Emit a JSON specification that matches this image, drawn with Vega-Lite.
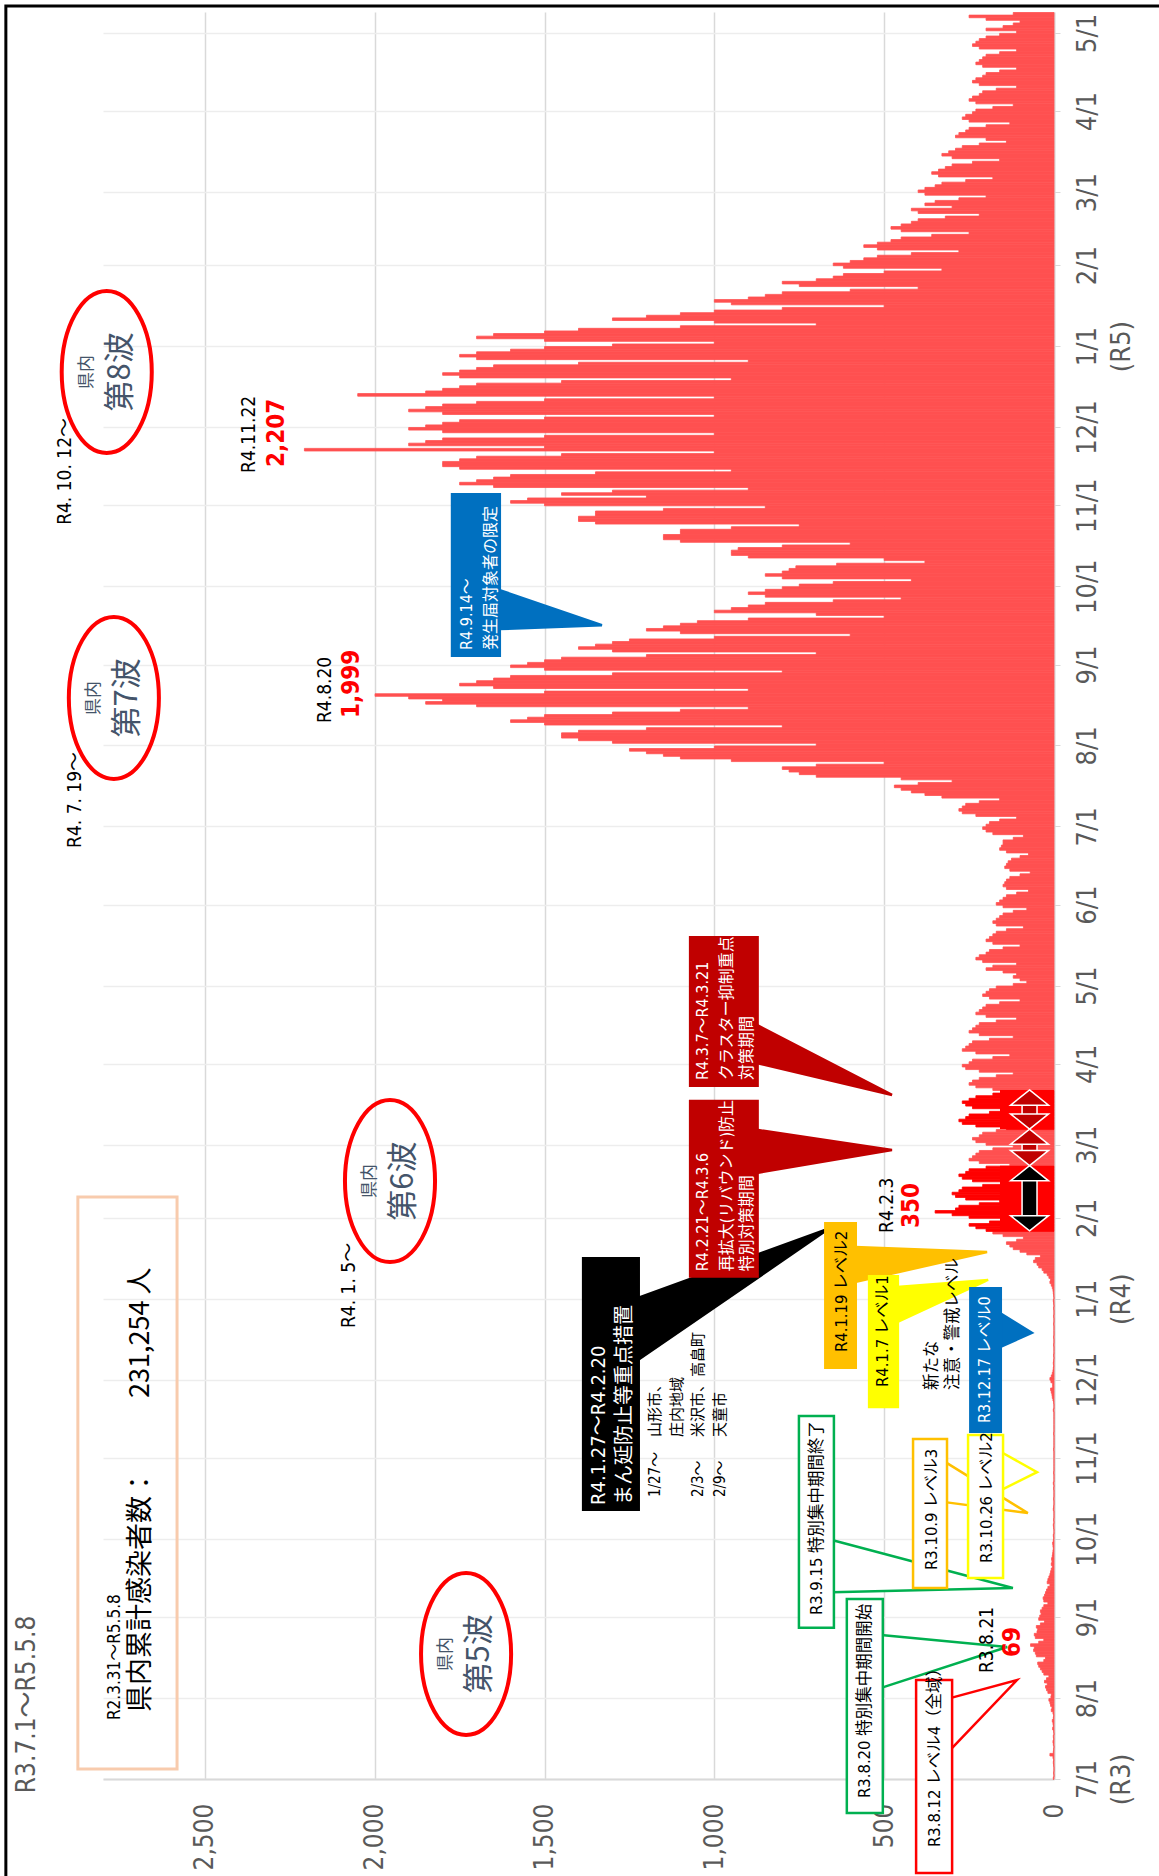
{
"$schema":"https://vega.github.io/schema/vega-lite/v6.json",
"width":951,"height":1767,
"autosize":{"type":"none"},
"padding":{"left":103,"top":12,"right":105,"bottom":97},
"background":"white",
"config":{"view":{"stroke":null}},
"resolve":{"scale":{"fill":"independent","stroke":"independent","shape":"independent"}},
"layer":[
{"data":{"values":[
{"d":"2021/7/1","v":2},{"d":"2021/7/2","v":0},{"d":"2021/7/3","v":1},{"d":"2021/7/4","v":0},{"d":"2021/7/5","v":0},{"d":"2021/7/6","v":1},{"d":"2021/7/7","v":2},{"d":"2021/7/8","v":1},{"d":"2021/7/9","v":3},{"d":"2021/7/10","v":12},{"d":"2021/7/11","v":2},{"d":"2021/7/12","v":1},{"d":"2021/7/13","v":0},{"d":"2021/7/14","v":2},{"d":"2021/7/15","v":3},{"d":"2021/7/16","v":1},{"d":"2021/7/17","v":2},{"d":"2021/7/18","v":0},{"d":"2021/7/19","v":1},{"d":"2021/7/20","v":4},{"d":"2021/7/21","v":2},{"d":"2021/7/22","v":3},{"d":"2021/7/23","v":5},{"d":"2021/7/24","v":2},{"d":"2021/7/25","v":1},{"d":"2021/7/26","v":3},{"d":"2021/7/27","v":8},{"d":"2021/7/28","v":6},{"d":"2021/7/29","v":10},{"d":"2021/7/30","v":12},{"d":"2021/7/31","v":15},
{"d":"2021/8/1","v":9},{"d":"2021/8/2","v":8},{"d":"2021/8/3","v":18},{"d":"2021/8/4","v":22},{"d":"2021/8/5","v":25},{"d":"2021/8/6","v":20},{"d":"2021/8/7","v":28},{"d":"2021/8/8","v":22},{"d":"2021/8/9","v":15},{"d":"2021/8/10","v":30},{"d":"2021/8/11","v":35},{"d":"2021/8/12","v":40},{"d":"2021/8/13","v":45},{"d":"2021/8/14","v":48},{"d":"2021/8/15","v":30},{"d":"2021/8/16","v":25},{"d":"2021/8/17","v":52},{"d":"2021/8/18","v":55},{"d":"2021/8/19","v":60},{"d":"2021/8/20","v":58},{"d":"2021/8/21","v":69},{"d":"2021/8/22","v":45},{"d":"2021/8/23","v":30},{"d":"2021/8/24","v":55},{"d":"2021/8/25","v":58},{"d":"2021/8/26","v":50},{"d":"2021/8/27","v":48},{"d":"2021/8/28","v":52},{"d":"2021/8/29","v":40},{"d":"2021/8/30","v":28},{"d":"2021/8/31","v":45},
{"d":"2021/9/1","v":42},{"d":"2021/9/2","v":38},{"d":"2021/9/3","v":40},{"d":"2021/9/4","v":35},{"d":"2021/9/5","v":30},{"d":"2021/9/6","v":18},{"d":"2021/9/7","v":30},{"d":"2021/9/8","v":32},{"d":"2021/9/9","v":28},{"d":"2021/9/10","v":25},{"d":"2021/9/11","v":22},{"d":"2021/9/12","v":18},{"d":"2021/9/13","v":12},{"d":"2021/9/14","v":20},{"d":"2021/9/15","v":18},{"d":"2021/9/16","v":15},{"d":"2021/9/17","v":12},{"d":"2021/9/18","v":10},{"d":"2021/9/19","v":8},{"d":"2021/9/20","v":5},{"d":"2021/9/21","v":8},{"d":"2021/9/22","v":6},{"d":"2021/9/23","v":7},{"d":"2021/9/24","v":5},{"d":"2021/9/25","v":4},{"d":"2021/9/26","v":3},{"d":"2021/9/27","v":2},{"d":"2021/9/28","v":3},{"d":"2021/9/29","v":4},{"d":"2021/9/30","v":2},
{"d":"2021/10/1","v":1},{"d":"2021/10/2","v":2},{"d":"2021/10/3","v":0},{"d":"2021/10/4","v":0},{"d":"2021/10/5","v":1},{"d":"2021/10/6","v":2},{"d":"2021/10/7","v":0},{"d":"2021/10/8","v":1},{"d":"2021/10/9","v":0},{"d":"2021/10/10","v":0},{"d":"2021/10/11","v":0},{"d":"2021/10/12","v":2},{"d":"2021/10/13","v":1},{"d":"2021/10/14","v":0},{"d":"2021/10/15","v":0},{"d":"2021/10/16","v":1},{"d":"2021/10/17","v":0},{"d":"2021/10/18","v":0},{"d":"2021/10/19","v":0},{"d":"2021/10/20","v":1},{"d":"2021/10/21","v":0},{"d":"2021/10/22","v":2},{"d":"2021/10/23","v":0},{"d":"2021/10/24","v":0},{"d":"2021/10/25","v":0},{"d":"2021/10/26","v":1},{"d":"2021/10/27","v":0},{"d":"2021/10/28","v":0},{"d":"2021/10/29","v":0},{"d":"2021/10/30","v":0},{"d":"2021/10/31","v":0},
{"d":"2021/11/1","v":0},{"d":"2021/11/2","v":0},{"d":"2021/11/3","v":0},{"d":"2021/11/4","v":1},{"d":"2021/11/5","v":0},{"d":"2021/11/6","v":0},{"d":"2021/11/7","v":0},{"d":"2021/11/8","v":0},{"d":"2021/11/9","v":0},{"d":"2021/11/10","v":1},{"d":"2021/11/11","v":0},{"d":"2021/11/12","v":0},{"d":"2021/11/13","v":0},{"d":"2021/11/14","v":0},{"d":"2021/11/15","v":0},{"d":"2021/11/16","v":0},{"d":"2021/11/17","v":0},{"d":"2021/11/18","v":0},{"d":"2021/11/19","v":2},{"d":"2021/11/20","v":0},{"d":"2021/11/21","v":0},{"d":"2021/11/22","v":1},{"d":"2021/11/23","v":3},{"d":"2021/11/24","v":5},{"d":"2021/11/25","v":6},{"d":"2021/11/26","v":8},{"d":"2021/11/27","v":10},{"d":"2021/11/28","v":4},{"d":"2021/11/29","v":4},{"d":"2021/11/30","v":9},
{"d":"2021/12/1","v":12},{"d":"2021/12/2","v":8},{"d":"2021/12/3","v":5},{"d":"2021/12/4","v":3},{"d":"2021/12/5","v":2},{"d":"2021/12/6","v":1},{"d":"2021/12/7","v":2},{"d":"2021/12/8","v":1},{"d":"2021/12/9","v":0},{"d":"2021/12/10","v":1},{"d":"2021/12/11","v":0},{"d":"2021/12/12","v":0},{"d":"2021/12/13","v":0},{"d":"2021/12/14","v":1},{"d":"2021/12/15","v":0},{"d":"2021/12/16","v":0},{"d":"2021/12/17","v":1},{"d":"2021/12/18","v":0},{"d":"2021/12/19","v":0},{"d":"2021/12/20","v":0},{"d":"2021/12/21","v":0},{"d":"2021/12/22","v":1},{"d":"2021/12/23","v":0},{"d":"2021/12/24","v":0},{"d":"2021/12/25","v":1},{"d":"2021/12/26","v":0},{"d":"2021/12/27","v":0},{"d":"2021/12/28","v":1},{"d":"2021/12/29","v":0},{"d":"2021/12/30","v":1},{"d":"2021/12/31","v":2},
{"d":"2022/1/1","v":0},{"d":"2022/1/2","v":1},{"d":"2022/1/3","v":2},{"d":"2022/1/4","v":3},{"d":"2022/1/5","v":5},{"d":"2022/1/6","v":8},{"d":"2022/1/7","v":12},{"d":"2022/1/8","v":10},{"d":"2022/1/9","v":15},{"d":"2022/1/10","v":20},{"d":"2022/1/11","v":30},{"d":"2022/1/12","v":35},{"d":"2022/1/13","v":45},{"d":"2022/1/14","v":50},{"d":"2022/1/15","v":60},{"d":"2022/1/16","v":55},{"d":"2022/1/17","v":40},{"d":"2022/1/18","v":80},{"d":"2022/1/19","v":100},{"d":"2022/1/20","v":120},{"d":"2022/1/21","v":130},{"d":"2022/1/22","v":140},{"d":"2022/1/23","v":110},{"d":"2022/1/24","v":90},{"d":"2022/1/25","v":150},{"d":"2022/1/26","v":180},{"d":"2022/1/27","v":200},{"d":"2022/1/28","v":230},{"d":"2022/1/29","v":250},{"d":"2022/1/30","v":190},{"d":"2022/1/31","v":150},
{"d":"2022/2/1","v":250},{"d":"2022/2/2","v":300},{"d":"2022/2/3","v":350},{"d":"2022/2/4","v":290},{"d":"2022/2/5","v":280},{"d":"2022/2/6","v":220},{"d":"2022/2/7","v":160},{"d":"2022/2/8","v":260},{"d":"2022/2/9","v":290},{"d":"2022/2/10","v":300},{"d":"2022/2/11","v":280},{"d":"2022/2/12","v":270},{"d":"2022/2/13","v":210},{"d":"2022/2/14","v":150},{"d":"2022/2/15","v":240},{"d":"2022/2/16","v":270},{"d":"2022/2/17","v":280},{"d":"2022/2/18","v":260},{"d":"2022/2/19","v":250},{"d":"2022/2/20","v":200},{"d":"2022/2/21","v":130},{"d":"2022/2/22","v":220},{"d":"2022/2/23","v":250},{"d":"2022/2/24","v":240},{"d":"2022/2/25","v":230},{"d":"2022/2/26","v":220},{"d":"2022/2/27","v":180},{"d":"2022/2/28","v":120},
{"d":"2022/3/1","v":200},{"d":"2022/3/2","v":230},{"d":"2022/3/3","v":240},{"d":"2022/3/4","v":220},{"d":"2022/3/5","v":210},{"d":"2022/3/6","v":170},{"d":"2022/3/7","v":140},{"d":"2022/3/8","v":230},{"d":"2022/3/9","v":270},{"d":"2022/3/10","v":280},{"d":"2022/3/11","v":260},{"d":"2022/3/12","v":250},{"d":"2022/3/13","v":190},{"d":"2022/3/14","v":130},{"d":"2022/3/15","v":240},{"d":"2022/3/16","v":260},{"d":"2022/3/17","v":270},{"d":"2022/3/18","v":250},{"d":"2022/3/19","v":230},{"d":"2022/3/20","v":180},{"d":"2022/3/21","v":110},{"d":"2022/3/22","v":180},{"d":"2022/3/23","v":230},{"d":"2022/3/24","v":250},{"d":"2022/3/25","v":240},{"d":"2022/3/26","v":220},{"d":"2022/3/27","v":170},{"d":"2022/3/28","v":120},{"d":"2022/3/29","v":220},{"d":"2022/3/30","v":260},{"d":"2022/3/31","v":270},
{"d":"2022/4/1","v":250},{"d":"2022/4/2","v":240},{"d":"2022/4/3","v":180},{"d":"2022/4/4","v":130},{"d":"2022/4/5","v":230},{"d":"2022/4/6","v":270},{"d":"2022/4/7","v":260},{"d":"2022/4/8","v":250},{"d":"2022/4/9","v":240},{"d":"2022/4/10","v":190},{"d":"2022/4/11","v":120},{"d":"2022/4/12","v":220},{"d":"2022/4/13","v":250},{"d":"2022/4/14","v":240},{"d":"2022/4/15","v":230},{"d":"2022/4/16","v":220},{"d":"2022/4/17","v":170},{"d":"2022/4/18","v":110},{"d":"2022/4/19","v":200},{"d":"2022/4/20","v":230},{"d":"2022/4/21","v":220},{"d":"2022/4/22","v":210},{"d":"2022/4/23","v":200},{"d":"2022/4/24","v":160},{"d":"2022/4/25","v":100},{"d":"2022/4/26","v":190},{"d":"2022/4/27","v":210},{"d":"2022/4/28","v":200},{"d":"2022/4/29","v":190},{"d":"2022/4/30","v":170},
{"d":"2022/5/1","v":120},{"d":"2022/5/2","v":80},{"d":"2022/5/3","v":100},{"d":"2022/5/4","v":120},{"d":"2022/5/5","v":110},{"d":"2022/5/6","v":150},{"d":"2022/5/7","v":200},{"d":"2022/5/8","v":180},{"d":"2022/5/9","v":110},{"d":"2022/5/10","v":210},{"d":"2022/5/11","v":230},{"d":"2022/5/12","v":220},{"d":"2022/5/13","v":200},{"d":"2022/5/14","v":190},{"d":"2022/5/15","v":150},{"d":"2022/5/16","v":100},{"d":"2022/5/17","v":180},{"d":"2022/5/18","v":200},{"d":"2022/5/19","v":190},{"d":"2022/5/20","v":180},{"d":"2022/5/21","v":170},{"d":"2022/5/22","v":140},{"d":"2022/5/23","v":90},{"d":"2022/5/24","v":170},{"d":"2022/5/25","v":180},{"d":"2022/5/26","v":170},{"d":"2022/5/27","v":160},{"d":"2022/5/28","v":150},{"d":"2022/5/29","v":120},{"d":"2022/5/30","v":80},{"d":"2022/5/31","v":150},
{"d":"2022/6/1","v":170},{"d":"2022/6/2","v":160},{"d":"2022/6/3","v":150},{"d":"2022/6/4","v":140},{"d":"2022/6/5","v":110},{"d":"2022/6/6","v":75},{"d":"2022/6/7","v":140},{"d":"2022/6/8","v":150},{"d":"2022/6/9","v":145},{"d":"2022/6/10","v":140},{"d":"2022/6/11","v":130},{"d":"2022/6/12","v":100},{"d":"2022/6/13","v":70},{"d":"2022/6/14","v":130},{"d":"2022/6/15","v":145},{"d":"2022/6/16","v":140},{"d":"2022/6/17","v":135},{"d":"2022/6/18","v":125},{"d":"2022/6/19","v":100},{"d":"2022/6/20","v":75},{"d":"2022/6/21","v":140},{"d":"2022/6/22","v":160},{"d":"2022/6/23","v":155},{"d":"2022/6/24","v":150},{"d":"2022/6/25","v":150},{"d":"2022/6/26","v":120},{"d":"2022/6/27","v":90},{"d":"2022/6/28","v":180},{"d":"2022/6/29","v":200},{"d":"2022/6/30","v":210},
{"d":"2022/7/1","v":200},{"d":"2022/7/2","v":190},{"d":"2022/7/3","v":160},{"d":"2022/7/4","v":110},{"d":"2022/7/5","v":230},{"d":"2022/7/6","v":270},{"d":"2022/7/7","v":280},{"d":"2022/7/8","v":270},{"d":"2022/7/9","v":260},{"d":"2022/7/10","v":220},{"d":"2022/7/11","v":160},{"d":"2022/7/12","v":330},{"d":"2022/7/13","v":380},{"d":"2022/7/14","v":420},{"d":"2022/7/15","v":450},{"d":"2022/7/16","v":470},{"d":"2022/7/17","v":400},{"d":"2022/7/18","v":300},{"d":"2022/7/19","v":450},{"d":"2022/7/20","v":700},{"d":"2022/7/21","v":750},{"d":"2022/7/22","v":780},{"d":"2022/7/23","v":800},{"d":"2022/7/24","v":700},{"d":"2022/7/25","v":500},{"d":"2022/7/26","v":950},{"d":"2022/7/27","v":1100},{"d":"2022/7/28","v":1150},{"d":"2022/7/29","v":1200},{"d":"2022/7/30","v":1250},{"d":"2022/7/31","v":1000},
{"d":"2022/8/1","v":700},{"d":"2022/8/2","v":1300},{"d":"2022/8/3","v":1400},{"d":"2022/8/4","v":1450},{"d":"2022/8/5","v":1450},{"d":"2022/8/6","v":1400},{"d":"2022/8/7","v":1200},{"d":"2022/8/8","v":800},{"d":"2022/8/9","v":1500},{"d":"2022/8/10","v":1600},{"d":"2022/8/11","v":1550},{"d":"2022/8/12","v":1500},{"d":"2022/8/13","v":1300},{"d":"2022/8/14","v":1100},{"d":"2022/8/15","v":900},{"d":"2022/8/16","v":1700},{"d":"2022/8/17","v":1850},{"d":"2022/8/18","v":1800},{"d":"2022/8/19","v":1900},{"d":"2022/8/20","v":1999},{"d":"2022/8/21","v":1500},{"d":"2022/8/22","v":900},{"d":"2022/8/23","v":1650},{"d":"2022/8/24","v":1750},{"d":"2022/8/25","v":1700},{"d":"2022/8/26","v":1650},{"d":"2022/8/27","v":1600},{"d":"2022/8/28","v":1300},{"d":"2022/8/29","v":800},{"d":"2022/8/30","v":1500},{"d":"2022/8/31","v":1600},
{"d":"2022/9/1","v":1550},{"d":"2022/9/2","v":1500},{"d":"2022/9/3","v":1450},{"d":"2022/9/4","v":1200},{"d":"2022/9/5","v":700},{"d":"2022/9/6","v":1300},{"d":"2022/9/7","v":1400},{"d":"2022/9/8","v":1350},{"d":"2022/9/9","v":1300},{"d":"2022/9/10","v":1250},{"d":"2022/9/11","v":1000},{"d":"2022/9/12","v":600},{"d":"2022/9/13","v":1100},{"d":"2022/9/14","v":1200},{"d":"2022/9/15","v":1150},{"d":"2022/9/16","v":1100},{"d":"2022/9/17","v":1050},{"d":"2022/9/18","v":900},{"d":"2022/9/19","v":500},{"d":"2022/9/20","v":700},{"d":"2022/9/21","v":1000},{"d":"2022/9/22","v":950},{"d":"2022/9/23","v":900},{"d":"2022/9/24","v":850},{"d":"2022/9/25","v":650},{"d":"2022/9/26","v":450},{"d":"2022/9/27","v":850},{"d":"2022/9/28","v":900},{"d":"2022/9/29","v":850},{"d":"2022/9/30","v":800},
{"d":"2022/10/1","v":750},{"d":"2022/10/2","v":650},{"d":"2022/10/3","v":420},{"d":"2022/10/4","v":800},{"d":"2022/10/5","v":850},{"d":"2022/10/6","v":800},{"d":"2022/10/7","v":780},{"d":"2022/10/8","v":760},{"d":"2022/10/9","v":640},{"d":"2022/10/10","v":380},{"d":"2022/10/11","v":500},{"d":"2022/10/12","v":900},{"d":"2022/10/13","v":950},{"d":"2022/10/14","v":950},{"d":"2022/10/15","v":930},{"d":"2022/10/16","v":800},{"d":"2022/10/17","v":600},{"d":"2022/10/18","v":1100},{"d":"2022/10/19","v":1150},{"d":"2022/10/20","v":1150},{"d":"2022/10/21","v":1100},{"d":"2022/10/22","v":1100},{"d":"2022/10/23","v":950},{"d":"2022/10/24","v":750},{"d":"2022/10/25","v":1350},{"d":"2022/10/26","v":1400},{"d":"2022/10/27","v":1400},{"d":"2022/10/28","v":1350},{"d":"2022/10/29","v":1350},{"d":"2022/10/30","v":1150},{"d":"2022/10/31","v":850},
{"d":"2022/11/1","v":1500},{"d":"2022/11/2","v":1600},{"d":"2022/11/3","v":1550},{"d":"2022/11/4","v":1200},{"d":"2022/11/5","v":1450},{"d":"2022/11/6","v":1300},{"d":"2022/11/7","v":900},{"d":"2022/11/8","v":1650},{"d":"2022/11/9","v":1750},{"d":"2022/11/10","v":1700},{"d":"2022/11/11","v":1650},{"d":"2022/11/12","v":1600},{"d":"2022/11/13","v":1350},{"d":"2022/11/14","v":950},{"d":"2022/11/15","v":1750},{"d":"2022/11/16","v":1800},{"d":"2022/11/17","v":1800},{"d":"2022/11/18","v":1750},{"d":"2022/11/19","v":1700},{"d":"2022/11/20","v":1450},{"d":"2022/11/21","v":1000},{"d":"2022/11/22","v":2207},{"d":"2022/11/23","v":1500},{"d":"2022/11/24","v":1900},{"d":"2022/11/25","v":1850},{"d":"2022/11/26","v":1800},{"d":"2022/11/27","v":1500},{"d":"2022/11/28","v":1000},{"d":"2022/11/29","v":1800},{"d":"2022/11/30","v":1900},
{"d":"2022/12/1","v":1850},{"d":"2022/12/2","v":1800},{"d":"2022/12/3","v":1750},{"d":"2022/12/4","v":1500},{"d":"2022/12/5","v":1000},{"d":"2022/12/6","v":1800},{"d":"2022/12/7","v":1900},{"d":"2022/12/8","v":1850},{"d":"2022/12/9","v":1800},{"d":"2022/12/10","v":1700},{"d":"2022/12/11","v":1500},{"d":"2022/12/12","v":1000},{"d":"2022/12/13","v":2050},{"d":"2022/12/14","v":1850},{"d":"2022/12/15","v":1800},{"d":"2022/12/16","v":1750},{"d":"2022/12/17","v":1700},{"d":"2022/12/18","v":1450},{"d":"2022/12/19","v":950},{"d":"2022/12/20","v":1750},{"d":"2022/12/21","v":1800},{"d":"2022/12/22","v":1750},{"d":"2022/12/23","v":1700},{"d":"2022/12/24","v":1650},{"d":"2022/12/25","v":1400},{"d":"2022/12/26","v":900},{"d":"2022/12/27","v":1700},{"d":"2022/12/28","v":1750},{"d":"2022/12/29","v":1700},{"d":"2022/12/30","v":1600},{"d":"2022/12/31","v":1500},
{"d":"2023/1/1","v":1300},{"d":"2023/1/2","v":1000},{"d":"2023/1/3","v":1500},{"d":"2023/1/4","v":1700},{"d":"2023/1/5","v":1650},{"d":"2023/1/6","v":1500},{"d":"2023/1/7","v":1400},{"d":"2023/1/8","v":1100},{"d":"2023/1/9","v":700},{"d":"2023/1/10","v":1000},{"d":"2023/1/11","v":1300},{"d":"2023/1/12","v":1200},{"d":"2023/1/13","v":1100},{"d":"2023/1/14","v":1000},{"d":"2023/1/15","v":800},{"d":"2023/1/16","v":500},{"d":"2023/1/17","v":950},{"d":"2023/1/18","v":1000},{"d":"2023/1/19","v":900},{"d":"2023/1/20","v":850},{"d":"2023/1/21","v":800},{"d":"2023/1/22","v":600},{"d":"2023/1/23","v":400},{"d":"2023/1/24","v":750},{"d":"2023/1/25","v":800},{"d":"2023/1/26","v":700},{"d":"2023/1/27","v":650},{"d":"2023/1/28","v":620},{"d":"2023/1/29","v":500},{"d":"2023/1/30","v":330},{"d":"2023/1/31","v":620},
{"d":"2023/2/1","v":650},{"d":"2023/2/2","v":600},{"d":"2023/2/3","v":560},{"d":"2023/2/4","v":520},{"d":"2023/2/5","v":420},{"d":"2023/2/6","v":280},{"d":"2023/2/7","v":520},{"d":"2023/2/8","v":560},{"d":"2023/2/9","v":520},{"d":"2023/2/10","v":480},{"d":"2023/2/11","v":450},{"d":"2023/2/12","v":360},{"d":"2023/2/13","v":250},{"d":"2023/2/14","v":450},{"d":"2023/2/15","v":480},{"d":"2023/2/16","v":450},{"d":"2023/2/17","v":420},{"d":"2023/2/18","v":400},{"d":"2023/2/19","v":320},{"d":"2023/2/20","v":220},{"d":"2023/2/21","v":400},{"d":"2023/2/22","v":420},{"d":"2023/2/23","v":300},{"d":"2023/2/24","v":380},{"d":"2023/2/25","v":350},{"d":"2023/2/26","v":280},{"d":"2023/2/27","v":200},{"d":"2023/2/28","v":380},
{"d":"2023/3/1","v":400},{"d":"2023/3/2","v":380},{"d":"2023/3/3","v":350},{"d":"2023/3/4","v":330},{"d":"2023/3/5","v":260},{"d":"2023/3/6","v":180},{"d":"2023/3/7","v":340},{"d":"2023/3/8","v":360},{"d":"2023/3/9","v":340},{"d":"2023/3/10","v":320},{"d":"2023/3/11","v":300},{"d":"2023/3/12","v":240},{"d":"2023/3/13","v":160},{"d":"2023/3/14","v":300},{"d":"2023/3/15","v":330},{"d":"2023/3/16","v":310},{"d":"2023/3/17","v":290},{"d":"2023/3/18","v":270},{"d":"2023/3/19","v":220},{"d":"2023/3/20","v":140},{"d":"2023/3/21","v":200},{"d":"2023/3/22","v":290},{"d":"2023/3/23","v":280},{"d":"2023/3/24","v":260},{"d":"2023/3/25","v":250},{"d":"2023/3/26","v":200},{"d":"2023/3/27","v":130},{"d":"2023/3/28","v":250},{"d":"2023/3/29","v":270},{"d":"2023/3/30","v":260},{"d":"2023/3/31","v":240},
{"d":"2023/4/1","v":230},{"d":"2023/4/2","v":180},{"d":"2023/4/3","v":120},{"d":"2023/4/4","v":230},{"d":"2023/4/5","v":250},{"d":"2023/4/6","v":240},{"d":"2023/4/7","v":220},{"d":"2023/4/8","v":210},{"d":"2023/4/9","v":170},{"d":"2023/4/10","v":110},{"d":"2023/4/11","v":220},{"d":"2023/4/12","v":240},{"d":"2023/4/13","v":230},{"d":"2023/4/14","v":210},{"d":"2023/4/15","v":200},{"d":"2023/4/16","v":160},{"d":"2023/4/17","v":110},{"d":"2023/4/18","v":210},{"d":"2023/4/19","v":230},{"d":"2023/4/20","v":220},{"d":"2023/4/21","v":210},{"d":"2023/4/22","v":200},{"d":"2023/4/23","v":160},{"d":"2023/4/24","v":110},{"d":"2023/4/25","v":220},{"d":"2023/4/26","v":240},{"d":"2023/4/27","v":230},{"d":"2023/4/28","v":220},{"d":"2023/4/29","v":200},{"d":"2023/4/30","v":160},
{"d":"2023/5/1","v":110},{"d":"2023/5/2","v":200},{"d":"2023/5/3","v":150},{"d":"2023/5/4","v":120},{"d":"2023/5/5","v":100},{"d":"2023/5/6","v":200},{"d":"2023/5/7","v":250},{"d":"2023/5/8","v":120}
]},
 "mark":{"type":"bar","binSpacing":0,"strokeWidth":0.8},
 "encoding":{
  "y":{"field":"d","type":"temporal","timeUnit":"yearmonthdate",
   "scale":{"domain":[{"year":2021,"month":7,"date":1},{"year":2023,"month":5,"date":9}],"nice":false},
   "axis":{"orient":"right","title":null,
    "values":[{"year":2021,"month":7,"date":1},{"year":2021,"month":8,"date":1},{"year":2021,"month":9,"date":1},{"year":2021,"month":10,"date":1},{"year":2021,"month":11,"date":1},{"year":2021,"month":12,"date":1},{"year":2022,"month":1,"date":1},{"year":2022,"month":2,"date":1},{"year":2022,"month":3,"date":1},{"year":2022,"month":4,"date":1},{"year":2022,"month":5,"date":1},{"year":2022,"month":6,"date":1},{"year":2022,"month":7,"date":1},{"year":2022,"month":8,"date":1},{"year":2022,"month":9,"date":1},{"year":2022,"month":10,"date":1},{"year":2022,"month":11,"date":1},{"year":2022,"month":12,"date":1},{"year":2023,"month":1,"date":1},{"year":2023,"month":2,"date":1},{"year":2023,"month":3,"date":1},{"year":2023,"month":4,"date":1},{"year":2023,"month":5,"date":1}],
    "labelExpr":"(month(datum.value)==0 || (year(datum.value)==2021 && month(datum.value)==6)) ? [timeFormat(datum.value,'%-m/%-d'), '(R' + (year(datum.value)-2018) + ')'] : timeFormat(datum.value,'%-m/%-d')",
    "labelAngle":270,"labelAlign":"center","labelBaseline":"top",
    "labelFont":"Liberation Sans Narrow, Arial Narrow, DejaVu Sans Condensed, sans-serif","labelFontSize":27,"labelColor":"#595959","labelLineHeight":34,
    "labelPadding":14,"tickSize":6,"tickColor":"#D9D9D9","domainColor":"#D9D9D9","domainWidth":2,
    "grid":true,"gridColor":"#EDEDED","gridWidth":1.5,"labelOverlap":false,"labelBound":false,"labelFlush":false}},
  "x":{"field":"v","type":"quantitative",
   "scale":{"domain":[0,2800],"reverse":true,"nice":false},
   "axis":{"orient":"bottom","title":null,"values":[0,500,1000,1500,2000,2500],
    "labelExpr":"format(datum.value, ',')",
    "labelAngle":270,"labelAlign":"right","labelBaseline":"middle",
    "labelFont":"Liberation Sans Narrow, Arial Narrow, DejaVu Sans Condensed, sans-serif","labelFontSize":26,"labelColor":"#595959",
    "labelPadding":24,"ticks":false,"domainColor":"#D9D9D9","domainWidth":2,
    "grid":true,"gridColor":"#D9D9D9","gridWidth":1.5,"labelOverlap":false,"labelBound":false,"labelFlush":false}},
  "color":{"condition":{"test":"(toDate(datum.d) >= datetime(2022,0,27) && toDate(datum.d) < datetime(2022,1,21)) || (toDate(datum.d) >= datetime(2022,2,7) && toDate(datum.d) < datetime(2022,2,22))","value":"#FF0000"},"value":"#FF5050"},
  "stroke":{"condition":{"test":"(toDate(datum.d) >= datetime(2022,0,27) && toDate(datum.d) < datetime(2022,1,21)) || (toDate(datum.d) >= datetime(2022,2,7) && toDate(datum.d) < datetime(2022,2,22))","value":"#FF0000"},"value":"#FF5050"}
 }},
{"data":{"values":[{"d1":"2022/1/27","d2":"2022/2/21","v1":0,"v2":159},{"d1":"2022/3/7","d2":"2022/3/22","v1":0,"v2":159}]},
 "mark":{"type":"rect","color":"#FF0000"},
 "encoding":{"y":{"field":"d1","type":"temporal"},"y2":{"field":"d2"},"x":{"field":"v1","type":"quantitative"},"x2":{"field":"v2"}}},
{"data":{"values":[{"k":"まん延防止","d1":"2022/1/31","d2":"2022/2/17","v1":50,"v2":94},{"k":"特別対策","d1":"2022/2/25","d2":"2022/3/3","v1":50,"v2":94},{"k":"特別対策","d1":"2022/3/11","d2":"2022/3/18","v1":50,"v2":94}]},
 "mark":{"type":"rect","stroke":"white","strokeWidth":1.5},
 "encoding":{"y":{"field":"d1","type":"temporal"},"y2":{"field":"d2"},"x":{"field":"v1","type":"quantitative"},"x2":{"field":"v2"},
  "fill":{"field":"k","type":"nominal","scale":{"domain":["まん延防止","特別対策"],"range":["#000000","#C00000"]},"legend":null}}},
{"data":{"values":[{"k":"まん延防止","h":"下","d":"2022/1/27","v":72},{"k":"まん延防止","h":"上","d":"2022/2/21","v":72},{"k":"特別対策","h":"下","d":"2022/2/21","v":72},{"k":"特別対策","h":"上","d":"2022/3/7","v":72},{"k":"特別対策","h":"下","d":"2022/3/7","v":72},{"k":"特別対策","h":"上","d":"2022/3/22","v":72}]},
 "mark":{"type":"point","filled":true,"size":1444,"stroke":"white","strokeWidth":1.5,"opacity":1},
 "encoding":{"y":{"field":"d","type":"temporal"},"x":{"field":"v","type":"quantitative"},
  "fill":{"field":"k","type":"nominal","scale":{"domain":["まん延防止","特別対策"],"range":["#000000","#C00000"]},"legend":null},
  "shape":{"field":"h","type":"nominal","scale":{"domain":["上","下"],"range":["M0,0L1,0.8L-1,0.8Z","M0,0L1,-0.8L-1,-0.8Z"]},"legend":null}}},
{"data":{"values":[
 {"id":"A","o":1,"d":"2022/1/1 07:00","v":1225},{"id":"A","o":2,"d":"2022/1/28 02:00","v":660},{"id":"A","o":3,"d":"2021/12/8 12:00","v":1225},
 {"id":"B","o":1,"d":"2022/3/6 17:00","v":875},{"id":"B","o":2,"d":"2022/2/27","v":477},{"id":"B","o":3,"d":"2022/2/18 05:00","v":875},
 {"id":"C","o":1,"d":"2022/4/15 22:00","v":875},{"id":"C","o":2,"d":"2022/3/20 02:00","v":477},{"id":"C","o":3,"d":"2022/4/1 07:00","v":875},
 {"id":"D","o":1,"d":"2022/1/20 19:00","v":586},{"id":"D","o":2,"d":"2022/1/18 22:00","v":197},{"id":"D","o":3,"d":"2022/1/7 10:00","v":586},
 {"id":"E","o":1,"d":"2022/1/5 12:00","v":462},{"id":"E","o":2,"d":"2022/1/8 05:00","v":194},{"id":"E","o":3,"d":"2021/12/23 02:00","v":462},
 {"id":"F","o":1,"d":"2021/12/26 12:00","v":159},{"id":"F","o":2,"d":"2021/12/18 22:00","v":65},{"id":"F","o":3,"d":"2021/12/13 12:00","v":159},
 {"id":"G","o":1,"d":"2022/9/29 14:00","v":1634},{"id":"G","o":2,"d":"2022/9/16 02:00","v":1331},{"id":"G","o":3,"d":"2022/9/14 14:00","v":1634},
 {"id":"H","o":1,"d":"2021/9/30 14:00","v":654},{"id":"H","o":2,"d":"2021/9/12 05:00","v":121},{"id":"H","o":3,"d":"2021/9/10 14:00","v":654},
 {"id":"I","o":1,"d":"2021/10/30 12:00","v":321},{"id":"I","o":2,"d":"2021/10/10 22:00","v":77},{"id":"I","o":3,"d":"2021/10/15 02:00","v":321},
 {"id":"J","o":1,"d":"2021/11/3 07:00","v":156},{"id":"J","o":2,"d":"2021/10/26 14:00","v":50},{"id":"J","o":3,"d":"2021/10/19 17:00","v":156},
 {"id":"K","o":1,"d":"2021/8/25 05:00","v":509},{"id":"K","o":2,"d":"2021/8/20 14:00","v":138},{"id":"K","o":3,"d":"2021/8/4 22:00","v":509},
 {"id":"L","o":1,"d":"2021/8/1","v":306},{"id":"L","o":2,"d":"2021/8/7 22:00","v":109},{"id":"L","o":3,"d":"2021/7/12 02:00","v":306}
]},
 "mark":{"type":"line","strokeWidth":2.5,"strokeJoin":"miter"},
 "encoding":{"y":{"field":"d","type":"temporal"},"x":{"field":"v","type":"quantitative"},"order":{"field":"o"},
  "fill":{"field":"id","type":"nominal","scale":{"domain":["A","B","C","D","E","F","G","H","I","J","K","L"],"range":["#000000","#C00000","#C00000","#FFC000","#FFFF00","#0070C0","#0070C0","#FFFFFF","#FFFFFF","#FFFFFF","#FFFFFF","#FFFFFF"]},"legend":null},
  "stroke":{"field":"id","type":"nominal","scale":{"domain":["A","B","C","D","E","F","G","H","I","J","K","L"],"range":["#000000","#C00000","#C00000","#FFC000","#FFFF00","#0070C0","#0070C0","#00B050","#FFC000","#FFFF00","#00B050","#FF0000"]},"legend":null}}},
{"data":{"values":[
 {"k":"まん延","d1":"2021/10/11 17:00","d2":"2022/1/17","v1":1390,"v2":1219},
 {"k":"再拡大","d1":"2022/1/9","d2":"2022/3/18 05:00","v1":1075,"v2":869},
 {"k":"クラスター","d1":"2022/3/23 02:00","d2":"2022/5/20","v1":1075,"v2":869},
 {"k":"レベル2","d1":"2021/12/5 02:00","d2":"2022/1/30 10:00","v1":677,"v2":580},
 {"k":"レベル1","d1":"2021/11/20 02:00","d2":"2022/1/10 02:00","v1":548,"v2":456},
 {"k":"レベル0","d1":"2021/11/10 14:00","d2":"2022/1/5 12:00","v1":250,"v2":153},
 {"k":"発生届","d1":"2022/9/3 22:00","d2":"2022/11/5 17:00","v1":1776,"v2":1628}
]},
 "mark":{"type":"rect"},
 "encoding":{"y":{"field":"d1","type":"temporal"},"y2":{"field":"d2"},"x":{"field":"v1","type":"quantitative"},"x2":{"field":"v2"},
  "fill":{"field":"k","type":"nominal","scale":{"domain":["まん延","再拡大","クラスター","レベル2","レベル1","レベル0","発生届"],"range":["#000000","#C00000","#C00000","#FFC000","#FFFF00","#0070C0","#0070C0"]},"legend":null}}},
{"data":{"values":[
 {"k":"終了","d1":"2021/8/27 22:00","d2":"2021/11/17 02:00","v1":751,"v2":648},
 {"k":"レベル3","d1":"2021/9/12 05:00","d2":"2021/11/8 07:00","v1":415,"v2":315},
 {"k":"レベル2","d1":"2021/9/16","d2":"2021/11/9 19:00","v1":253,"v2":150},
 {"k":"開始","d1":"2021/6/18","d2":"2021/9/8","v1":610,"v2":504},
 {"k":"レベル4","d1":"2021/5/26","d2":"2021/8/7 22:00","v1":406,"v2":300}
]},
 "mark":{"type":"rect","fill":"white","strokeWidth":2.5},
 "encoding":{"y":{"field":"d1","type":"temporal"},"y2":{"field":"d2"},"x":{"field":"v1","type":"quantitative"},"x2":{"field":"v2"},
  "stroke":{"field":"k","type":"nominal","scale":{"domain":["終了","レベル3","レベル2","開始","レベル4"],"range":["#00B050","#FFC000","#FFFF00","#00B050","#FF0000"]},"legend":null}}},
{"data":{"values":[{"d1":"2021/7/4 19:00","d2":"2022/2/9","v1":2874,"v2":2582}]},
 "mark":{"type":"rect","filled":false,"color":"#F8CBAD","strokeWidth":3},
 "encoding":{"y":{"field":"d1","type":"temporal"},"y2":{"field":"d2"},"x":{"field":"v1","type":"quantitative"},"x2":{"field":"v2"}}},
{"data":{"values":[{"d1":"2021/5/23","d2":"2023/5/11 07:00","v1":3086,"v2":-320}]},
 "mark":{"type":"rect","filled":false,"color":"#000000","strokeWidth":3},
 "encoding":{"y":{"field":"d1","type":"temporal"},"y2":{"field":"d2"},"x":{"field":"v1","type":"quantitative"},"x2":{"field":"v2"}}},
{"data":{"values":[
 {"t":"R4. 10. 12～","d":"2022/10/24 12:00","v":2912},
 {"t":"R4. 7. 19～","d":"2022/6/22 17:00","v":2883},
 {"t":"R4.11.22","d":"2022/11/13 10:00","v":2370},
 {"t":"R4.8.20","d":"2022/8/9 14:00","v":2147},
 {"t":"R4. 1. 5～","d":"2021/12/20 19:00","v":2076},
 {"t":"R4.2.3","d":"2022/1/26 05:00","v":492},
 {"t":"R3.8.21","d":"2021/8/10 14:00","v":197}
]},
 "mark":{"type":"text","angle":270,"align":"left","baseline":"middle","font":"Liberation Sans Narrow, Arial Narrow, DejaVu Sans Condensed, Noto Sans CJK JP, sans-serif","fontSize":19,"color":"#000000"},
 "encoding":{"y":{"field":"d","type":"temporal"},"x":{"field":"v","type":"quantitative"},"text":{"field":"t"}}},
{"data":{"values":[
 {"t":"2,207","d":"2022/11/15 17:00","v":2288},
 {"t":"1,999","d":"2022/8/11 12:00","v":2067},
 {"t":"350","d":"2022/1/28 02:00","v":418},
 {"t":"69","d":"2021/8/16 17:00","v":121}
]},
 "mark":{"type":"text","angle":270,"align":"left","baseline":"middle","font":"Liberation Sans Narrow, Arial Narrow, DejaVu Sans Condensed, sans-serif","fontSize":24,"fontWeight":"bold","color":"#FF0000"},
 "encoding":{"y":{"field":"d","type":"temporal"},"x":{"field":"v","type":"quantitative"},"text":{"field":"t"}}},
{"data":{"values":[
 {"t":"R4.1.19 レベル2","d":"2021/12/11 14:00","v":624},
 {"t":"R4.1.7 レベル1","d":"2021/11/28 05:00","v":504},
 {"t":"新たな","d":"2021/11/27","v":359},
 {"t":"注意・警戒レベル","d":"2021/11/27","v":297},
 {"t":"R3.10.9 レベル3","d":"2021/9/19 02:00","v":359},
 {"t":"R3.10.26 レベル2","d":"2021/9/21 19:00","v":197},
 {"t":"R3.9.15 特別集中期間終了","d":"2021/9/1 19:00","v":698},
 {"t":"R3.8.20 特別集中期間開始","d":"2021/6/23 17:00","v":557},
 {"t":"R3.8.12 レベル4（全域）","d":"2021/6/4 22:00","v":350}
]},
 "mark":{"type":"text","angle":270,"align":"left","baseline":"middle","font":"Liberation Sans Narrow, Arial Narrow, DejaVu Sans Condensed, Noto Sans CJK JP, sans-serif","fontSize":16.5,"color":"#000000"},
 "encoding":{"y":{"field":"d","type":"temporal"},"x":{"field":"v","type":"quantitative"},"text":{"field":"t"}}},
{"data":{"values":[
 {"t":"1/27～","d":"2021/10/17","v":1175},
 {"t":"2/3～","d":"2021/10/17","v":1048},
 {"t":"2/9～","d":"2021/10/17","v":984},
 {"t":"山形市、","d":"2021/11/9","v":1175},
 {"t":"庄内地域","d":"2021/11/9","v":1110},
 {"t":"米沢市、高畠町","d":"2021/11/9","v":1048},
 {"t":"天童市","d":"2021/11/9","v":984}
]},
 "mark":{"type":"text","angle":270,"align":"left","baseline":"middle","font":"Liberation Sans Narrow, Arial Narrow, DejaVu Sans Condensed, Noto Sans CJK JP, sans-serif","fontSize":15,"color":"#000000"},
 "encoding":{"y":{"field":"d","type":"temporal"},"x":{"field":"v","type":"quantitative"},"text":{"field":"t"}}},
{"data":{"values":[
 {"t":"R4.1.27～R4.2.20","d":"2021/10/14","v":1340},
 {"t":"まん延防止等重点措置","d":"2021/10/14","v":1263}
]},
 "mark":{"type":"text","angle":270,"align":"left","baseline":"middle","font":"Liberation Sans Narrow, Arial Narrow, DejaVu Sans Condensed, Noto Sans CJK JP, sans-serif","fontSize":20,"color":"#FFFFFF"},
 "encoding":{"y":{"field":"d","type":"temporal"},"x":{"field":"v","type":"quantitative"},"text":{"field":"t"}}},
{"data":{"values":[
 {"t":"R4.2.21～R4.3.6","d":"2022/1/11 14:00","v":1034},
 {"t":"再拡大(リバウンド)防止","d":"2022/1/11 14:00","v":963},
 {"t":"特別対策期間","d":"2022/1/11 14:00","v":904},
 {"t":"R4.3.7～R4.3.21","d":"2022/3/25 19:00","v":1034},
 {"t":"クラスター抑制重点","d":"2022/3/25 19:00","v":963},
 {"t":"対策期間","d":"2022/3/25 19:00","v":904},
 {"t":"R3.12.17 レベル0","d":"2021/11/14 10:00","v":203},
 {"t":"R4.9.14～","d":"2022/9/6 14:00","v":1728},
 {"t":"発生届対象者の限定","d":"2022/9/6 14:00","v":1658}
]},
 "mark":{"type":"text","angle":270,"align":"left","baseline":"middle","font":"Liberation Sans Narrow, Arial Narrow, DejaVu Sans Condensed, Noto Sans CJK JP, sans-serif","fontSize":16,"color":"#FFFFFF"},
 "encoding":{"y":{"field":"d","type":"temporal"},"x":{"field":"v","type":"quantitative"},"text":{"field":"t"}}},
{"data":{"values":[{"t":"R3.7.1～R5.5.8","d":"2021/6/25 14:00","v":3024}]},
 "mark":{"type":"text","angle":270,"align":"left","baseline":"middle","font":"Liberation Sans Narrow, Arial Narrow, DejaVu Sans Condensed, Noto Sans CJK JP, sans-serif","fontSize":26,"color":"#595959"},
 "encoding":{"y":{"field":"d","type":"temporal"},"x":{"field":"v","type":"quantitative"},"text":{"field":"t"}}},
{"data":{"values":[{"t":"R2.3.31～R5.5.8","d":"2021/7/23 14:00","v":2765}]},
 "mark":{"type":"text","angle":270,"align":"left","baseline":"middle","font":"Liberation Sans Narrow, Arial Narrow, DejaVu Sans Condensed, Noto Sans CJK JP, sans-serif","fontSize":17,"color":"#000000"},
 "encoding":{"y":{"field":"d","type":"temporal"},"x":{"field":"v","type":"quantitative"},"text":{"field":"t"}}},
{"data":{"values":[{"t":"県内累計感染者数：","d":"2021/7/26 17:00","v":2688},{"t":"231,254 人","d":"2021/11/24","v":2688}]},
 "mark":{"type":"text","angle":270,"align":"left","baseline":"middle","font":"Noto Sans CJK JP, sans-serif","fontSize":27,"color":"#000000"},
 "encoding":{"y":{"field":"d","type":"temporal"},"x":{"field":"v","type":"quantitative"},"text":{"field":"t"}}},
{"data":{"values":[{"t":"県内","d":"2022/12/22 02:00","v":2848},{"t":"県内","d":"2022/8/19 05:00","v":2827},{"t":"県内","d":"2022/2/15 02:00","v":2014},{"t":"県内","d":"2021/8/17 22:00","v":1790}]},
 "mark":{"type":"text","angle":270,"align":"center","baseline":"middle","font":"Noto Sans CJK JP, sans-serif","fontSize":17,"color":"#44546A"},
 "encoding":{"y":{"field":"d","type":"temporal"},"x":{"field":"v","type":"quantitative"},"text":{"field":"t"}}},
{"data":{"values":[{"t":"第8波","d":"2022/12/22 02:00","v":2748},{"t":"第7波","d":"2022/8/19 05:00","v":2727},{"t":"第6波","d":"2022/2/15 02:00","v":1914},{"t":"第5波","d":"2021/8/17 22:00","v":1690}]},
 "mark":{"type":"text","angle":270,"align":"center","baseline":"middle","font":"Noto Sans CJK JP, sans-serif","fontSize":31,"color":"#44546A"},
 "encoding":{"y":{"field":"d","type":"temporal"},"x":{"field":"v","type":"quantitative"},"text":{"field":"t"}}},
{"data":{"values":[{"w":"第8波","d":"2022/12/22 02:00","v":2789},{"w":"第7波","d":"2022/8/19 05:00","v":2768},{"w":"第6波","d":"2022/2/15 02:00","v":1955},{"w":"第5波","d":"2021/8/17 22:00","v":1731}]},
 "mark":{"type":"point","shape":"M0,-1A0.556,1,0,1,1,0,1A0.556,1,0,1,1,0,-1Z","size":26244,"filled":false,"color":"#FF0000","strokeWidth":4,"opacity":1},
 "encoding":{"y":{"field":"d","type":"temporal"},"x":{"field":"v","type":"quantitative"}}}
]
}
